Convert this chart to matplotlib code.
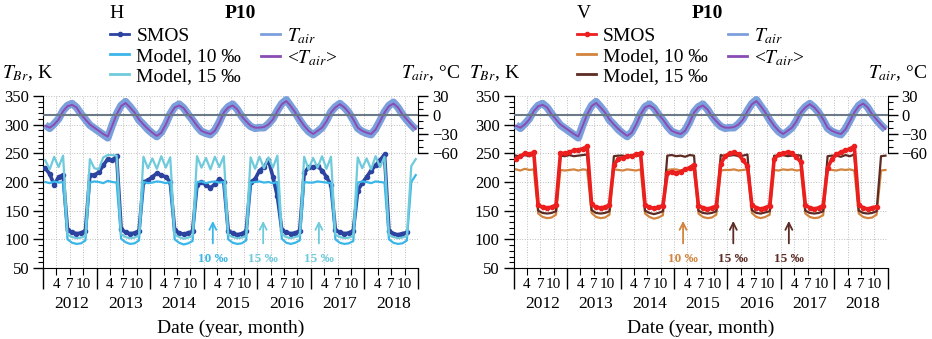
import numpy as np
import matplotlib
matplotlib.use("Agg")
import matplotlib.pyplot as plt
from matplotlib.lines import Line2D
from matplotlib.ticker import FixedLocator, MultipleLocator

plt.rcParams['font.family'] = ['Liberation Serif', 'DejaVu Serif']
plt.rcParams['mathtext.fontset'] = 'stix'

# monthly values, Jan 2012 .. Dec 2018 (one row per year)
YEARS = list(range(2012, 2019))
MONTH_TICKS = [4, 7, 10]

T_AIR = [
    -16, -21, -14, -6, 7, 15, 18, 12, 2, -7, -16, -21,
    -26, -31, -36, -16, 2, 15, 21, 13, 4, -8, -15, -23,
    -29, -34, -27, -14, 2, 13, 17, 11, 1, -8, -18, -26,
    -29, -31, -24, -11, 5, 13, 17, 9, -2, -11, -18, -21,
    -20, -20, -14, -6, 7, 18, 24, 14, 4, -8, -18, -26,
    -31, -26, -20, -9, 5, 13, 18, 12, 4, -8, -21, -26,
    -29, -31, -22, -9, 5, 15, 20, 12, 1, -8, -16, -23,
]
T_AIR_AVG = [
    -17, -20, -15, -7, 6, 14, 16, 12, 1, -7, -15, -20,
    -25, -30, -34, -17, 1, 14, 19, 12, 4, -7, -15, -22,
    -28, -33, -28, -15, 1, 12, 15, 11, 1, -7, -17, -25,
    -28, -30, -25, -12, 4, 12, 15, 9, -2, -10, -17, -20,
    -20, -19, -15, -7, 6, 17, 22, 14, 4, -7, -17, -25,
    -30, -25, -20, -10, 4, 12, 17, 12, 4, -7, -20, -25,
    -28, -30, -23, -10, 4, 14, 18, 12, 1, -7, -15, -22,
]

SMOS_H = [
    224, 214, 195, 209, 212, 116, 112, 110, 111, 115, 212, 212,
    217, 229, 240, 238, 245, 118, 112, 110, 111, 115, 200, 203,
    209, 215, 212, 209, 200, 116, 111, 109, 111, 114, 195, 200,
    195, 190, 196, 205, 200, 115, 111, 108, 110, 114, 200, 205,
    220, 226, 238, 209, 175, 116, 112, 110, 111, 115, 215, 226,
    226, 228, 220, 209, 195, 116, 112, 110, 111, 115, 185, 198,
    209, 220, 229, 238, 248, 115, 110, 108, 110, 112, np.nan, np.nan,
]
MODEL10_H = [
    200, 198, 201, 199, 200, 100, 94, 92, 93, 98, 199, 201,
    200, 198, 202, 200, 199, 101, 95, 92, 93, 98, 200, 198,
    199, 201, 200, 198, 200, 100, 94, 91, 93, 97, 200, 201,
    198, 200, 201, 199, 200, 100, 94, 92, 93, 98, 199, 200,
    201, 199, 200, 198, 200, 101, 94, 92, 94, 98, 200, 199,
    199, 201, 200, 199, 198, 100, 94, 92, 93, 97, 199, 201,
    200, 198, 201, 200, 199, 100, 94, 92, 93, 98, 200, 212,
]
MODEL15_H = [
    238, 222, 244, 226, 246, 108, 104, 102, 103, 106, 240, 224,
    222, 243, 247, 247, 246, 109, 104, 102, 103, 107, 244, 224,
    241, 223, 245, 225, 243, 108, 104, 101, 103, 106, 245, 225,
    242, 222, 244, 226, 245, 108, 104, 102, 103, 106, 243, 223,
    244, 224, 243, 225, 246, 109, 104, 102, 104, 107, 244, 222,
    242, 225, 245, 223, 244, 108, 104, 102, 103, 106, 243, 224,
    241, 222, 245, 226, 244, 108, 104, 102, 103, 106, 228, 240,
]

SMOS_V = [
    240, 245, 250, 248, 252, 160, 156, 155, 156, 160, 250, 250,
    252, 255, 256, 258, 262, 161, 156, 155, 156, 160, 230, 240,
    242, 245, 245, 248, 250, 160, 156, 154, 156, 159, 215, 218,
    215, 218, 222, 225, 230, 159, 155, 153, 155, 158, 232, 245,
    250, 252, 248, 238, 228, 160, 155, 153, 155, 159, 240, 248,
    250, 252, 250, 243, 235, 160, 155, 153, 155, 159, 225, 240,
    248, 252, 255, 258, 262, 160, 155, 153, 155, 157, np.nan, np.nan,
]
MODEL10_V = [
    222, 220, 223, 221, 222, 145, 139, 137, 138, 143, 221, 220,
    221, 222, 220, 222, 221, 146, 139, 137, 138, 143, 222, 221,
    220, 222, 221, 220, 222, 145, 139, 136, 138, 142, 221, 222,
    222, 220, 221, 222, 221, 145, 139, 137, 138, 143, 220, 221,
    221, 222, 220, 221, 222, 146, 139, 137, 139, 143, 221, 220,
    222, 221, 222, 220, 221, 145, 139, 137, 138, 142, 222, 221,
    220, 222, 221, 222, 220, 145, 139, 137, 138, 143, 220, 221,
]
MODEL15_V = [
    246, 244, 247, 245, 248, 150, 146, 145, 146, 149, 246, 245,
    247, 245, 246, 247, 248, 151, 146, 145, 146, 149, 245, 246,
    246, 244, 247, 245, 247, 150, 146, 144, 146, 149, 246, 247,
    245, 246, 244, 247, 246, 150, 146, 145, 146, 149, 247, 245,
    246, 247, 245, 246, 248, 151, 146, 145, 147, 149, 246, 245,
    247, 245, 246, 247, 246, 150, 146, 145, 146, 149, 245, 246,
    246, 244, 247, 245, 248, 150, 146, 145, 146, 149, 245, 246,
]

ARROW_X = [2015.17, 2016.11, 2017.15]
ARROW_LABELS = ['10 \u2030', '15 \u2030', '15 \u2030']

t = 2012 + (np.arange(len(T_AIR)) + 0.5) / 12

C_TAIR = '#7b9fdc'
C_TAVG = '#8a4cb3'
GRID = '#bdbdbd'

PANELS = [
    dict(pol='H', x0=43, x1=418, smos=SMOS_H, m10=MODEL10_H, m15=MODEL15_H,
         c_smos='#2c43a0', c10='#3bb6e8', c15='#6fcadc',
         arrow_cols=['#3bb6e8', '#6fcadc', '#6fcadc'], smos_first=True),
    dict(pol='V', x0=513.7, x1=887.7, smos=SMOS_V, m10=MODEL10_V, m15=MODEL15_V,
         c_smos='#ec1e1e', c10='#d2843f', c15='#5c2b23',
         arrow_cols=['#d2843f', '#5c2b23', '#5c2b23'], smos_first=False),
]

W, H = 932, 339
fig = plt.figure(figsize=(W / 100, H / 100), dpi=100)
fig.patch.set_facecolor('white')

for k, p in enumerate(PANELS):
    off = 0 if k == 0 else 467
    ax = fig.add_axes([p['x0'] / W, 1 - 268 / H, (p['x1'] - p['x0']) / W, 172 / H])
    ax.set_xlim(2012, 2019)
    ax.set_ylim(50, 350)

    smos_kw = dict(color=p['c_smos'], lw=2.6, marker='o', ms=3, zorder=3)
    if p['smos_first']:
        ax.plot(t, p['smos'], **smos_kw)
        ax.plot(t, p['m10'], color=p['c10'], lw=1.6, zorder=4)
        ax.plot(t, p['m15'], color=p['c15'], lw=1.6, zorder=4)
    else:
        ax.plot(t, p['m10'], color=p['c10'], lw=1.6, zorder=2)
        ax.plot(t, p['m15'], color=p['c15'], lw=1.6, zorder=2)
        ax.plot(t, p['smos'], **smos_kw)

    for xa, lab, col in zip(ARROW_X, ARROW_LABELS, p['arrow_cols']):
        ax.annotate('', xy=(xa, 137), xytext=(xa, 88),
                    arrowprops=dict(arrowstyle='->,head_length=0.5,head_width=0.25',
                                    color=col, lw=1.3))
        ax.text(xa, 66, lab, color=col, fontsize=9.5, fontweight='bold',
                ha='center', va='center')

    # axes styling
    for s in ('top', 'right'):
        ax.spines[s].set_visible(False)
    ax.yaxis.set_major_locator(MultipleLocator(50))
    ax.yaxis.set_minor_locator(MultipleLocator(10))
    ax.tick_params(axis='y', which='major', direction='out', length=7, width=1,
                   labelsize=12, pad=3)
    ax.tick_params(axis='y', which='minor', direction='out', length=3.5, width=0.8)
    ax.set_xticks(range(2012, 2020))
    ax.tick_params(axis='x', which='major', direction='out', length=15, width=1,
                   labelbottom=False)
    mpos = [y + (m - 1) / 12 for y in YEARS for m in MONTH_TICKS]
    mlab = [str(m) for y in YEARS for m in MONTH_TICKS]
    ax.set_xticks(mpos, labels=mlab, minor=True)
    ax.tick_params(axis='x', which='minor', direction='out', length=5, width=0.8,
                   labelsize=11, pad=2)
    ax.xaxis.grid(True, which='both', ls=':', color=GRID, lw=0.7)
    ax.yaxis.grid(True, which='major', ls=':', color=GRID, lw=0.7)
    ax.set_axisbelow(True)
    for y in YEARS:
        ax.text(y + 0.54, -0.21, str(y), transform=ax.get_xaxis_transform(),
                ha='center', va='center', fontsize=12.5)
    ax.text(0.5, -0.35, 'Date (year, month)', transform=ax.transAxes,
            ha='center', va='center', fontsize=14)

    # air temperature on the right scale
    ax2 = ax.twinx()
    ax2.set_ylim(-241.6, 30)
    ax2.plot(t, T_AIR, color=C_TAIR, lw=5.5, solid_capstyle='butt', zorder=2)
    ax2.plot(t, T_AIR_AVG, color=C_TAVG, lw=1.4, zorder=3)
    ax2.axhline(0, color='#6b7a86', lw=1.5, zorder=4)
    for s in ('top', 'left', 'bottom'):
        ax2.spines[s].set_visible(False)
    ax2.spines['right'].set_bounds(-60, 30)
    ax2.yaxis.set_major_locator(FixedLocator([-60, -30, 0, 30]))
    ax2.yaxis.set_minor_locator(FixedLocator([v for v in range(-60, 31, 10)
                                              if v % 30]))
    ax2.tick_params(axis='y', which='major', direction='out', length=7, width=1,
                    labelsize=12, pad=3)
    ax2.tick_params(axis='y', which='minor', direction='out', length=3.5, width=0.8)

    # header texts
    fig.text((2 + off) / W, 1 - 73 / H, '$T_{Br}$, K', fontsize=14,
             ha='left', va='center')
    fig.text((460 + off) / W, 1 - 73 / H, '$T_{air}$, \u00b0C', fontsize=14,
             ha='right', va='center')
    fig.text((117 + off) / W, 1 - 14 / H, p['pol'], fontsize=14,
             ha='center', va='center')
    fig.text((240 + off) / W, 1 - 14 / H, 'P10', fontsize=14, fontweight='bold',
             ha='center', va='center')

    handles = [
        Line2D([], [], color=p['c_smos'], lw=2, marker='o', ms=3),
        Line2D([], [], color=p['c10'], lw=2),
        Line2D([], [], color=p['c15'], lw=2),
        Line2D([], [], color=C_TAIR, lw=2),
        Line2D([], [], color=C_TAVG, lw=2),
    ]
    labels = ['SMOS', 'Model, 10 \u2030', 'Model, 15 \u2030',
              '$T_{air}$', '<$T_{air}$>']
    fig.legend(handles, labels, ncol=2, loc='upper left',
               bbox_to_anchor=((110 + off) / W, 1 - 26 / H),
               frameon=False, fontsize=14, handlelength=1.0, handletextpad=0.35,
               columnspacing=1.0, labelspacing=0.12, borderpad=0,
               borderaxespad=0)

fig.savefig('out.png', dpi=100)
